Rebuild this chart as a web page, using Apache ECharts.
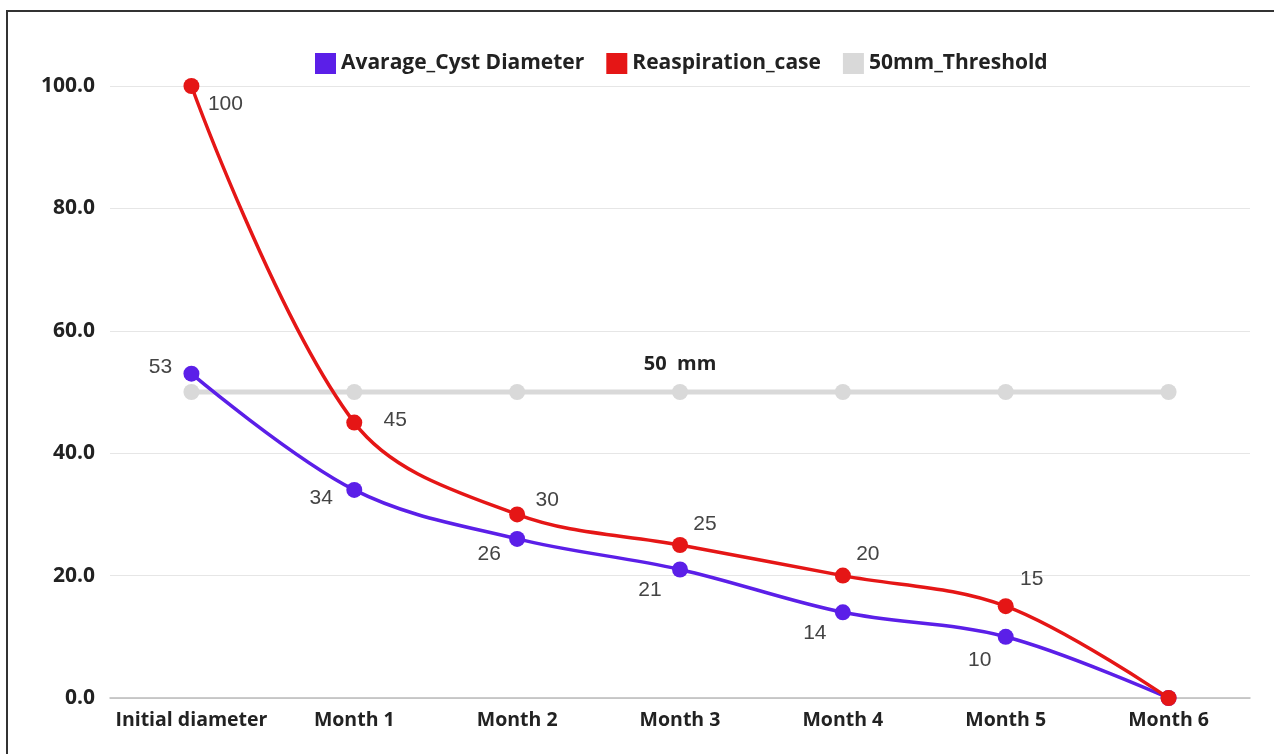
<!DOCTYPE html>
<html>
<head>
<meta charset="utf-8">
<script src="https://cdn.jsdelivr.net/npm/echarts@6/dist/echarts.min.js"></script>
<style>
  html, body { margin: 0; padding: 0; background: #fff; }
  #chart { width: 1274px; height: 754px; }
  .frame {
    position: absolute;
    left: 6px;
    top: 10px;
    width: 1280px;
    height: 760px;
    border-top: 2px solid #333;
    border-left: 2px solid #333;
    pointer-events: none;
  }
</style>
</head>
<body>
<div id="chart"></div>
<div class="frame"></div>
<script>
const categories = ['Initial diameter', 'Month 1', 'Month 2', 'Month 3', 'Month 4', 'Month 5', 'Month 6']
const cystDiameter = [53, 34, 26, 21, 14, 10, 0]
const reaspiration = [100, 45, 30, 25, 20, 15, 0]
const threshold = [50, 50, 50, 50, 50, 50, 50]
const thresholdLabelIndex = 3

// label offsets from point centre (layout only)
const redOffsets = [[34, 18], [41, -2], [30, -14], [25, -21], [25, -21], [26, -27], [0, 0]]
const purpleOffsets = [[-31, -6], [-33, 8], [-28, 15], [-30, 21], [-28, 21], [-26, 23], [0, 0]]

const labelStyle = {
  show: true,
  position: 'inside',
  fontFamily: 'Liberation Sans',
  fontSize: 21,
  color: '#444'
}

const boldText = {
  fontFamily: 'Open Sans',
  fontWeight: 'bold',
  fontSize: 20,
  color: '#222'
}

function withLabels (values, offsets) {
  return values.map((v, i) => ({
    value: v,
    label: v === 0 ? { show: false } : Object.assign({}, labelStyle, { offset: offsets[i] })
  }))
}

let myChart = echarts.init(document.getElementById('chart'))
let option = {
  animation: false,
  backgroundColor: '#fff',
  legend: {
    top: 48,
    left: 310,
    itemWidth: 21,
    itemHeight: 21,
    itemGap: 22,
    icon: 'rect',
    textStyle: Object.assign({}, boldText, { fontSize: 21 }),
    data: ['Avarage_Cyst Diameter', 'Reaspiration_case', '50mm_Threshold']
  },
  grid: {
    left: 110,
    right: 24,
    top: 86,
    bottom: 56
  },
  xAxis: {
    type: 'category',
    data: categories,
    axisTick: { show: false },
    axisLine: { lineStyle: { color: '#bbb', width: 1.5 } },
    axisLabel: Object.assign({ margin: 12, interval: 0 }, boldText, { fontSize: 19.5 })
  },
  yAxis: {
    type: 'value',
    min: 0,
    max: 100,
    interval: 20,
    axisLabel: Object.assign({ margin: 15, formatter: v => v.toFixed(1) }, boldText, { fontSize: 21 }),
    splitLine: { lineStyle: { color: '#e6e6e6' } }
  },
  series: [
    {
      name: '50mm_Threshold',
      type: 'line',
      data: threshold.map((v, i) => ({
        value: v,
        label: i === thresholdLabelIndex ? Object.assign({
          show: true,
          position: 'top',
          distance: 10,
          formatter: '50  mm'
        }, boldText, { fontSize: 20 }) : { show: false }
      })),
      color: '#d9d9d9',
      symbol: 'circle',
      symbolSize: 16,
      lineStyle: { width: 5, color: '#d9d9d9' },
      z: 1
    },
    {
      name: 'Avarage_Cyst Diameter',
      type: 'line',
      smooth: 0.35,
      data: withLabels(cystDiameter, purpleOffsets),
      color: '#5b1fe8',
      symbol: 'circle',
      symbolSize: 16,
      lineStyle: { width: 3.5, color: '#5b1fe8' },
      z: 2
    },
    {
      name: 'Reaspiration_case',
      type: 'line',
      smooth: 0.35,
      data: withLabels(reaspiration, redOffsets),
      color: '#e51616',
      symbol: 'circle',
      symbolSize: 16,
      lineStyle: { width: 3.5, color: '#e51616' },
      z: 3
    }
  ]
}
option && myChart.setOption(option)
</script>
</body>
</html>
